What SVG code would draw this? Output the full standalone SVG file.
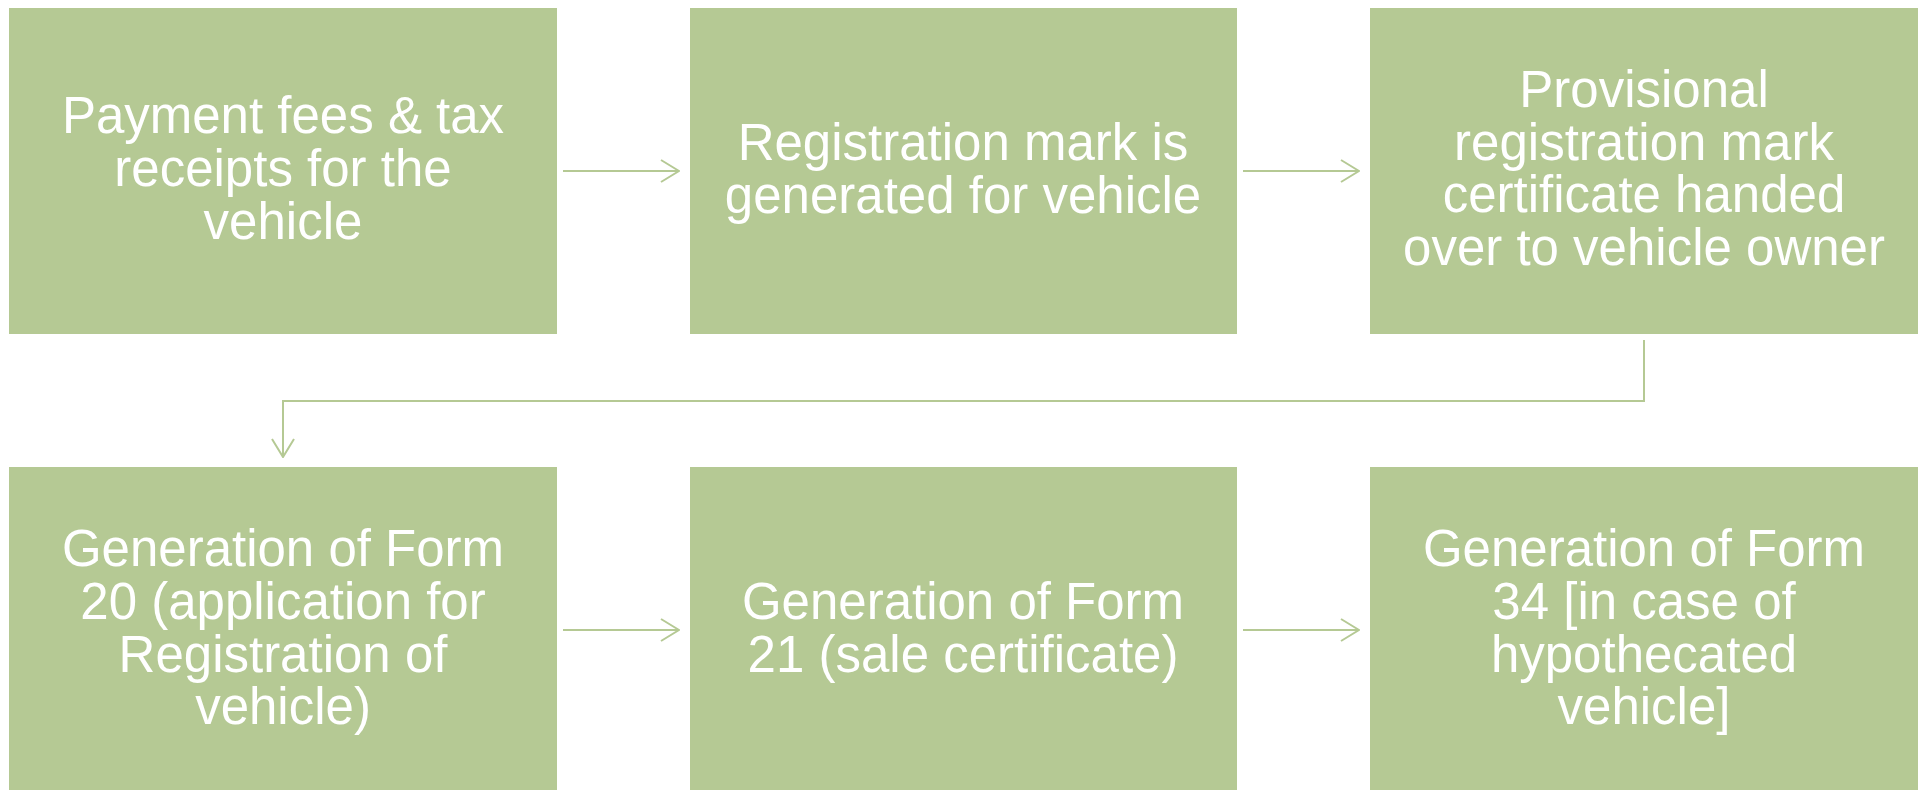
<svg xmlns="http://www.w3.org/2000/svg" width="1923" height="790" viewBox="0 0 1923 790">
<style>
.box{fill:#B5C994}
.lbl{font-family:"Liberation Sans",Arial,sans-serif;font-size:51px;fill:#FFFFFF;text-anchor:middle}
.con{fill:none;stroke:#B5C994;stroke-width:2}
</style>
<defs>
<marker id="ah" viewBox="0 0 20 24" refX="19" refY="12" markerWidth="20" markerHeight="24" markerUnits="userSpaceOnUse" orient="auto">
<path d="M1,1 L19,12 L1,23" fill="none" stroke="#B5C994" stroke-width="2"/>
</marker>
</defs>
<rect width="1923" height="790" fill="#FFFFFF"/>
<g id="connectors">
<path class="con" d="M563,171 H679" marker-end="url(#ah)"/>
<path class="con" d="M1243,171 H1359" marker-end="url(#ah)"/>
<path class="con" d="M1644,340 V401 H283 V457" marker-end="url(#ah)"/>
<path class="con" d="M563,630 H679" marker-end="url(#ah)"/>
<path class="con" d="M1243,630 H1359" marker-end="url(#ah)"/>
</g>
<g id="node1">
<rect class="box" x="9" y="8" width="548" height="326"/>
<text class="lbl" x="283" y="133">Payment fees &amp; tax</text>
<text class="lbl" x="283" y="186">receipts for the</text>
<text class="lbl" x="283" y="239">vehicle</text>
</g>
<g id="node2">
<rect class="box" x="690" y="8" width="547" height="326"/>
<text class="lbl" x="963" y="160">Registration mark is</text>
<text class="lbl" x="963" y="213">generated for vehicle</text>
</g>
<g id="node3">
<rect class="box" x="1370" y="8" width="548" height="326"/>
<text class="lbl" x="1644" y="107">Provisional</text>
<text class="lbl" x="1644" y="160">registration mark</text>
<text class="lbl" x="1644" y="212">certificate handed</text>
<text class="lbl" x="1644" y="265">over to vehicle owner</text>
</g>
<g id="node4">
<rect class="box" x="9" y="467" width="548" height="330"/>
<text class="lbl" x="283" y="566">Generation of Form</text>
<text class="lbl" x="283" y="619">20 (application for</text>
<text class="lbl" x="283" y="672">Registration of</text>
<text class="lbl" x="283" y="724">vehicle)</text>
</g>
<g id="node5">
<rect class="box" x="690" y="467" width="547" height="330"/>
<text class="lbl" x="963" y="619">Generation of Form</text>
<text class="lbl" x="963" y="672">21 (sale certificate)</text>
</g>
<g id="node6">
<rect class="box" x="1370" y="467" width="548" height="330"/>
<text class="lbl" x="1644" y="566">Generation of Form</text>
<text class="lbl" x="1644" y="619">34 [in case of</text>
<text class="lbl" x="1644" y="672">hypothecated</text>
<text class="lbl" x="1644" y="724">vehicle]</text>
</g>
</svg>
